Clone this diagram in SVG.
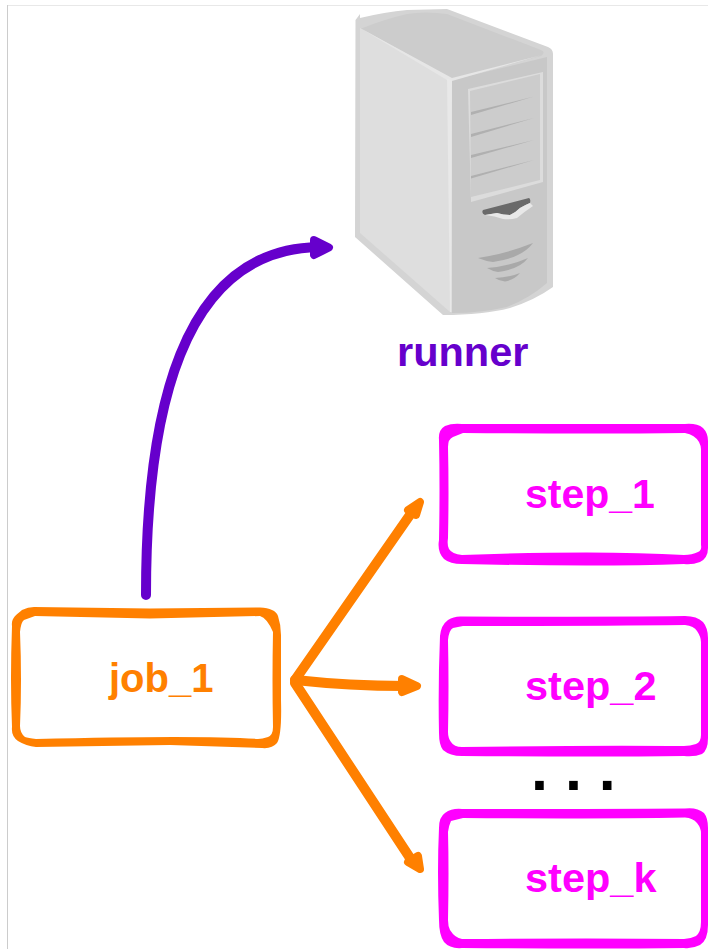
<svg xmlns="http://www.w3.org/2000/svg" width="708" height="949" viewBox="0 0 708 949">
<style>
text{font-family:"Liberation Sans",Arial,sans-serif;font-weight:700}
.j{fill:#ff8000;font-size:40px}
.s{fill:#ff00ff;font-size:41.5px}
.o{fill:#ff8000;fill-rule:evenodd}
.m{fill:#ff00ff;fill-rule:evenodd}
.c{fill:none;stroke-linecap:round}
.oc{stroke:#ff8000;stroke-width:10}
.oh{fill:#ff8000;stroke:#ff8000;stroke-width:8;stroke-linejoin:round}
.v{fill:#a9a9a9}
.l{fill:#b0b0b0}
</style>
<rect width="708" height="949" fill="#fff"/>
<path d="M7.500 5V949" stroke="#cccccc" stroke-width="1" fill="none"/>
<path d="M8 5.500H708" stroke="#e8e8e8" stroke-width="1" fill="none"/>
<g id="runner">
<path d="M355.500 20L360 14V18Q385 12 407 10L447 9L548 47Q553 49 553 54V287Q535 300 510 308Q483 315 443 315L355 237Z" fill="#d4d4d4"/>
<path d="M360 29Q385 19 407 14Q425 11 447 14L541 50Q546 52 541 56L452 79Z" fill="#cccccc"/>
<path d="M360 28L452 79V312H450L360 233Z" fill="#dedede"/>
<path d="M452 80L547 57V283Q530 298 507 307Q480 313 452 313Z" fill="#c8c8c8"/>
<path d="M360 28L452 78L542 55L452 81L447 80Z" fill="#e6e6e6"/>
<path d="M447 79L452 80L451 312H450Z" fill="#e8e8e8"/>
<path d="M468 89L543 72V182L471 202Z" fill="#dcdcdc"/>
<path d="M470 91L540 74V180L471 197Z" fill="#cccccc"/>
<path class="l" d="M471 112L534 96.500L471 115Z"/>
<path class="l" d="M471 134L534 118L471 137Z"/>
<path class="l" d="M471 155L534 140L471 158Z"/>
<path class="l" d="M471 176L534 160L471 178.500Z"/>
<path d="M483 210L529 198Q531 199 530 203Q525 205 520 208Q515 213 510 215Q503 215 497 213L485 215Q481 213 483 210Z" fill="#6a6a6a"/>
<path d="M485 215L497 213Q503 215 510 215Q515 213 520 208Q525 205 530 203L533 206Q524 212 517 218Q510 220 503 219Q495 216 485 215Z" fill="#e8e8e8"/>
<path class="v" d="M478 258Q505 254 533 243Q522 258 493 262Q485 261 478 258Z"/>
<path class="v" d="M487 268Q510 266 528 258Q520 269 498 272Q492 271 487 268Z"/>
<path class="v" d="M495 278Q510 277 520 273Q514 280 505 281.500Q499 281 495 278Z"/>
<text x="397" y="366" font-size="41.500" fill="#6600cc">runner</text>
</g>
<g id="connectors">
<path class="c" d="M146 595C146 415 180 250 318 247" stroke="#6600cc" stroke-width="10"/>
<path d="M314 240L329 247.500L314 255Z" fill="#6600cc" stroke="#6600cc" stroke-width="8" stroke-linejoin="round"/>
<path class="c oc" d="M295 680L412 512"/>
<path class="oh" d="M408 510L420 502L416 515Z"/>
<path class="c oc" d="M295 680Q350 686 405 686"/>
<path class="oh" d="M402 679L417 686L402 692Z"/>
<path class="c oc" d="M295 683L412 861"/>
<path class="oh" d="M408 862L418 856L420 869Z"/>
</g>
<g id="job_1">
<path class="o" d="M12 626C11 618 16 615 22 610Q28 607 34 607L150 608.500L260 607.500Q275 608 278 616Q281 625 281 635L281 700Q282 735 277 743Q272 749 262 748L170 745L36 747Q26 746 18 741Q11 736 12 727Q10 680 12 626ZM20 632Q21 622 24 620L35 616L150 618.500L260 616Q267 618 273 632Q272 680 273 727Q273 735 268 737Q262 739 258 739Q200 735 36 739Q28 738 25 737Q20 733 20 726Q22 680 20 632Z"/>
<text class="j" x="109" y="692">job_1</text>
</g>
<g id="step_1">
<path class="m" d="M439 440Q438 430 445 426Q452 423 462 424L685 424Q697 423 703 428Q708 433 708 441L708 548Q708 558 700 562Q692 565 684 564Q600 567 462 564Q450 564 444 559Q437 552 439 540Q440 490 439 440ZM448 447Q448 439 453 437L463 433Q600 434 685 433Q695 435 699 442Q701 446 701 449L701 545Q702 550 698 552Q692 555 684 555Q600 550 462 555Q452 554 449 549Q447 546 448 538Q449 490 448 447Z"/>
<text class="s" x="525" y="508" style="font-size:41px">step_1</text>
</g>
<g id="step_2">
<path class="m" d="M440 636Q441 625 448 620Q454 616 462 616.500Q600 617 685 616Q697 616 703 622Q708 628 708 638L708 738Q708 750 702 754Q695 757 684 756Q600 757 462 756Q450 756 443 750Q439 745 439 733Q438 685 440 636ZM448 640Q449 630 453 628L463 626Q600 626 685 625Q694 626 697 631Q701 637 701 642L701 735Q701 742 696 744Q690 746 684 746Q600 745 462 747Q454 747 451 742Q448 738 448 732Q449 685 448 640Z"/>
<text class="s" x="525" y="700">step_2</text>
</g>
<g id="step_k">
<path class="m" d="M439 828Q439 817 445 813Q452 808 462 809Q600 809 685 808.500Q697 807 704 813Q708 818 708 828L708 925Q708 940 700 945Q692 949 684 948Q600 949 462 948Q450 949 444 942Q439 935 439 920Q437 870 439 828ZM448 832Q449 825 451 821L463 818Q600 819 685 817.500Q693 818 697 823Q701 828 701 833L701 922Q701 932 696 936Q690 939 684 939Q600 938 462 939Q455 938 450 930Q448 926 448 920Q449 870 448 832Z"/>
<text class="s" x="525" y="892">step_k</text>
</g>
<text id="dots" x="531" y="790" font-size="61" fill="#000">. . .</text>
</svg>
